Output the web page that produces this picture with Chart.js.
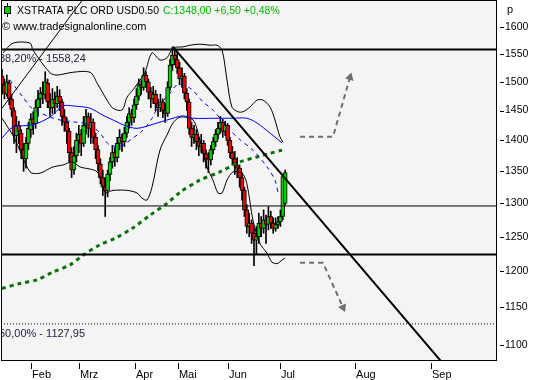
<!DOCTYPE html>
<html>
<head>
<meta charset="utf-8">
<script src="https://cdn.jsdelivr.net/npm/chart.js@4.4.0/dist/chart.umd.min.js"></script>
<style>
  html, body { margin: 0; padding: 0; background: #fff; }
  canvas { display: block; }
</style>
</head>
<body>
<canvas id="chart" width="533" height="380"></canvas>
<script>
// daily candles, index 0 = first visible bar
const opens = [1510,1495,1478,1498,1470,1450,1408,1425,1412,1385, 1370,1395,1418,1436,1428,1455,1470,1482,1478,1498,
  1465,1455,1470,1462,1475,1465,1440,1430,1415,1380, 1352,1375,1400,1410,1395,1425,1440,1420,1430,1405,
  1385,1362,1340,1325,1320,1345,1365,1380,1372,1395, 1405,1398,1412,1430,1445,1438,1460,1475,1495,1490,
  1512,1500,1482,1470,1478,1462,1455,1465,1450,1445, 1490,1530,1548,1540,1525,1505,1510,1480,1465,1420,
  1405,1410,1398,1390,1395,1378,1370,1368,1385,1398, 1410,1420,1430,1415,1425,1400,1380,1370,1360,1355,
  1340,1320,1290,1265,1270,1255,1245,1250,1270,1262, 1275,1268,1280,1270,1262,1268,1272,1280,1300];
const highs = [1522,1505,1512,1503,1478,1455,1440,1432,1418,1395, 1405,1430,1445,1448,1468,1485,1490,1500,1518,1505,
  1480,1488,1482,1492,1486,1470,1452,1438,1420,1388, 1390,1412,1425,1418,1440,1452,1446,1445,1436,1412,
  1392,1370,1352,1340,1352,1372,1392,1388,1405,1418, 1410,1422,1440,1455,1452,1470,1488,1505,1502,1525,
  1518,1505,1490,1492,1485,1470,1478,1470,1462,1500, 1540,1563,1560,1555,1535,1525,1515,1488,1470,1430,
  1425,1418,1405,1410,1400,1385,1380,1392,1405,1418, 1430,1440,1435,1432,1428,1405,1390,1382,1372,1360,
  1348,1325,1298,1285,1275,1262,1265,1285,1280,1290, 1282,1295,1288,1278,1278,1280,1290,1345,1352];
const lows = [1478,1470,1475,1460,1440,1395,1380,1395,1370,1350, 1355,1385,1405,1410,1420,1440,1455,1462,1470,1455,
  1440,1445,1445,1455,1450,1425,1415,1395,1365,1340, 1345,1365,1380,1375,1390,1410,1405,1395,1395,1370,
  1350,1330,1312,1280,1310,1335,1355,1358,1365,1385, 1382,1390,1405,1420,1425,1430,1452,1468,1478,1485,
  1490,1470,1455,1462,1450,1440,1448,1438,1430,1440, 1485,1520,1530,1515,1495,1490,1470,1450,1410,1390,
  1395,1385,1375,1380,1365,1355,1348,1360,1378,1390, 1402,1412,1405,1408,1392,1372,1360,1345,1340,1325,
  1305,1280,1255,1250,1240,1208,1225,1240,1250,1255, 1240,1260,1262,1255,1258,1262,1265,1275,1298];
const closes = [1495,1480,1500,1470,1452,1410,1425,1415,1385,1370, 1395,1420,1436,1428,1455,1470,1480,1478,1500,1465,
  1455,1470,1462,1475,1465,1440,1430,1415,1380,1352, 1375,1400,1410,1395,1425,1440,1420,1430,1405,1385,
  1362,1340,1325,1320,1345,1365,1380,1372,1395,1405, 1398,1412,1430,1445,1438,1460,1475,1495,1490,1512,
  1500,1482,1470,1478,1462,1455,1465,1450,1445,1490, 1530,1548,1540,1525,1505,1510,1480,1465,1420,1405,
  1410,1398,1390,1395,1378,1370,1368,1385,1398,1410, 1420,1430,1415,1425,1400,1380,1370,1360,1355,1340,
  1320,1290,1265,1270,1255,1245,1250,1270,1262,1275, 1268,1280,1270,1262,1268,1272,1280,1341.5,1348];

// indicators as [bar index, price]
const bbUpper = [[0.4,1552],[4.6,1570],[11.7,1570],[12.9,1557],[20,1516],[22.9,1512],[29.6,1517],[36.7,1517],[39.6,1498],
  [43.75,1468],[46.25,1454],[50,1451],[52.1,1473],[54.6,1486],[57.5,1503],[59.6,1517],[62.5,1552],[65.8,1539],[68.75,1543],
  [71.25,1561],[75.4,1563],[78.3,1566],[82.5,1568],[86.7,1566],[89.6,1566],[91.7,1557],[93.75,1503],[95.8,1456],[98.3,1448],
  [100.4,1448],[103.3,1456],[106.25,1468],[108.75,1468],[111.7,1456],[113.75,1434],[115.8,1406],[117.1,1397]];
const bbLower = [[0,1437],[5,1405],[11.7,1349],[15.8,1347],[21.25,1357],[25.4,1360],[29.2,1365],[32.5,1357],[39.6,1349],
  [42.9,1317],[46.25,1320],[52.1,1320],[56.25,1316],[58.3,1308],[60.4,1305],[62.5,1325],[65.8,1384],[68.75,1409],[71.25,1429],
  [74.2,1439],[79.6,1434],[82.5,1400],[85.4,1357],[87.9,1336],[90,1316],[91.7,1316],[93.75,1336],[96.25,1349],[100,1347],
  [102,1331],[104.6,1274],[107.5,1240],[110.4,1226],[112.5,1213],[114.6,1211],[116.7,1216],[117.9,1219]];
const avgSlow = [[0,1404],[4.6,1422],[12.9,1426],[20,1439],[25.4,1458],[29.6,1458],[36.7,1454],[42.1,1442],[47.9,1431],
  [50.4,1426],[56.25,1420],[64.6,1429],[71.25,1437],[75.4,1441],[79.6,1437],[88.75,1437],[96.25,1437],[102,1437],
  [106.25,1429],[111.7,1412],[116.7,1396]];
const avgFast = [[3.3,1503],[8.75,1473],[12.5,1454],[20,1439],[24.2,1434],[29.6,1431],[36.7,1426],[40.8,1412],[45,1392],
  [50,1392],[54.6,1404],[58.75,1417],[62.5,1437],[65,1456],[70,1480],[72.9,1494],[78.3,1489],[83.75,1465],[87.9,1451],
  [93.75,1422],[99.2,1401],[104.6,1384],[110.4,1357],[113.75,1336],[115,1316]];
const avg200 = [[0,1176],[7.5,1183],[14.6,1188],[21.25,1199],[28.3,1209],[33.75,1223],[40.8,1238],[47.9,1249],[54.6,1263],
  [61.7,1282],[68.75,1300],[74.2,1317],[82.5,1336],[90.8,1349],[99.2,1365],[106.25,1373],[111.7,1379],[116.7,1384]];

const trendDown = [[71.25,1563],[186.7,1066]];
const trendUp = [[0,1454],[34,1655]];
const arrowUp = [[124.2,1406],[137.9,1406],[145,1508]];
const arrowDown = [[124.2,1212],[133.75,1212],[142.1,1150]];

const fibLevels = [1558.24, 1127.95];
const fibTexts = ['38,20% - 1558,24', '50,00% - 1127,95'];
const supportLevels = [1296, 1224];

const monthLabels = ['Feb','Mrz','Apr','Mai','Jun','Jul','Aug','Sep'];
const monthTicks = [12.1, 32.1, 55.4, 73.3, 94.2, 115.8, 147.1, 178.75];
const priceTicks = [1100,1150,1200,1250,1300,1350,1400,1450,1500,1550,1600];

const xMin = -0.42, xMax = 206.25;
const yMin = 1081, yMax = 1651.7;

const toXY = arr => arr.map(p => ({ x: p[0], y: p[1] }));
const flat = v => [{ x: xMin, y: v }, { x: xMax, y: v }];
const font = '"Liberation Sans", Arial, sans-serif';

const up = closes.map((c, i) => c >= opens[i]);

const datasets = [
  {
    type: 'bar', label: 'wick', order: 11, grouped: false,
    data: closes.map((c, i) => ({ x: i, y: [lows[i], highs[i]] })),
    backgroundColor: '#000', barThickness: 1, borderWidth: 0
  },
  {
    type: 'bar', label: 'body', order: 10, grouped: false,
    data: closes.map((c, i) => ({ x: i, y: [opens[i], c] })),
    backgroundColor: up.map(u => u ? '#00d000' : '#f00000'),
    borderColor: '#000', borderWidth: 1, borderSkipped: false, barThickness: 4
  },
  { type: 'line', data: toXY(bbUpper), borderColor: '#000', borderWidth: 1, tension: 0.3, order: 5 },
  { type: 'line', data: toXY(bbLower), borderColor: '#000', borderWidth: 1, tension: 0.3, order: 5 },
  { type: 'line', data: toXY(avgSlow), borderColor: '#0000ff', borderWidth: 1, tension: 0.3, order: 4 },
  { type: 'line', data: toXY(avgFast), borderColor: '#0000ff', borderWidth: 1, borderDash: [4, 4], tension: 0.3, order: 4 },
  { type: 'line', data: toXY(avg200), borderColor: '#0a6e0a', borderWidth: 3, borderDash: [4, 4], tension: 0.3, order: 4 },
  { type: 'line', data: flat(fibLevels[0]), borderColor: '#000', borderWidth: 2, order: 3 },
  { type: 'line', data: flat(fibLevels[1]), borderColor: '#000', borderWidth: 1, borderDash: [1, 2], order: 3 },
  { type: 'line', data: flat(supportLevels[0]), borderColor: '#000', borderWidth: 1, order: 3 },
  { type: 'line', data: flat(supportLevels[1]), borderColor: '#000', borderWidth: 2, order: 3 },
  { type: 'line', data: toXY(trendDown), borderColor: '#000', borderWidth: 2, order: 2 },
  { type: 'line', data: toXY(trendUp), borderColor: '#000', borderWidth: 1, order: 2 },
  {
    type: 'line', data: toXY(arrowUp), borderColor: '#6e6e6e', borderWidth: 2, borderDash: [5, 4], order: 2,
    pointRadius: [0, 0, 5], pointStyle: 'triangle', pointRotation: 16, pointBackgroundColor: '#6e6e6e', pointBorderWidth: 0
  },
  {
    type: 'line', data: toXY(arrowDown), borderColor: '#6e6e6e', borderWidth: 2, borderDash: [5, 4], order: 2,
    pointRadius: [0, 0, 5], pointStyle: 'triangle', pointRotation: 156, pointBackgroundColor: '#6e6e6e', pointBorderWidth: 0
  }
];

const decor = {
  id: 'decor',
  beforeDraw(chart) {
    const { ctx, chartArea: a } = chart;
    ctx.save();
    ctx.fillStyle = '#fff';
    ctx.fillRect(0, 0, chart.width, chart.height);
    ctx.fillStyle = '#f4f4f4';
    ctx.fillRect(a.left, a.top, a.right - a.left, a.bottom - a.top);
    ctx.restore();
  },
  afterDraw(chart) {
    const { ctx, chartArea: a, scales } = chart;
    ctx.save();
    // frame
    ctx.strokeStyle = '#000';
    ctx.lineWidth = 1;
    ctx.strokeRect(a.left + 0.5, a.top + 0.5, a.right - a.left - 1, a.bottom - a.top);

    // tick marks
    ctx.beginPath();
    priceTicks.forEach(v => {
      const y = Math.round(scales.y.getPixelForValue(v)) + 0.5;
      ctx.moveTo(a.right + 3, y); ctx.lineTo(a.right + 7, y);
    });
    monthTicks.forEach(v => {
      const x = Math.round(scales.x.getPixelForValue(v)) + 0.5;
      ctx.moveTo(x, a.bottom + 3); ctx.lineTo(x, a.bottom + 9);
    });
    ctx.stroke();

    // fibonacci texts
    ctx.save();
    ctx.beginPath();
    ctx.rect(a.left + 1, a.top, a.right - a.left, a.bottom - a.top);
    ctx.clip();
    ctx.font = '11px ' + font;
    ctx.fillStyle = '#1e1e3c';
    fibLevels.forEach((v, i) => {
      ctx.fillText(fibTexts[i], a.left - 2, scales.y.getPixelForValue(v) + 13);
    });
    ctx.restore();

    // header
    ctx.fillStyle = '#000';
    ctx.fillRect(7, 3, 1, 14);
    ctx.fillRect(4, 6, 7, 8);
    ctx.fillStyle = '#00d000';
    ctx.fillRect(5, 7, 5, 6);
    ctx.font = '10.5px ' + font;
    ctx.fillStyle = '#000';
    const title = 'XSTRATA PLC ORD USD0.50';
    ctx.fillText(title, 17, 14);
    ctx.fillStyle = '#00b800';
    ctx.fillText('C:1348,00 +6,50 +0,48%', 17 + ctx.measureText(title).width + 4, 14);
    ctx.fillStyle = '#000';
    ctx.font = '11px ' + font;
    ctx.fillText('\u00a9 www.tradesignalonline.com', 2, 30);
    ctx.fillText('p', a.right + 10, 13);
    ctx.restore();
  }
};

new Chart(document.getElementById('chart'), {
  type: 'bar',
  data: { datasets },
  options: {
    responsive: false,
    animation: false,
    devicePixelRatio: 1,
    layout: { autoPadding: false, padding: { left: 1, top: 0, right: 0, bottom: 0 } },
    elements: { point: { radius: 0 } },
    plugins: { legend: { display: false }, tooltip: { enabled: false } },
    scales: {
      x: {
        type: 'linear', position: 'bottom', min: xMin, max: xMax, offset: false,
        grid: { display: false, drawTicks: false }, border: { display: false },
        afterBuildTicks: s => { s.ticks = monthTicks.map(v => ({ value: v })); },
        afterFit: s => { s.height = 20; s.paddingLeft = 0; s.paddingRight = 0; },
        ticks: {
          autoSkip: false, maxRotation: 0, align: 'start', padding: 8, labelOffset: 1,
          color: '#000', font: { family: font, size: 11 },
          callback: (v, i) => monthLabels[i]
        }
      },
      y: {
        type: 'logarithmic', position: 'right', min: yMin, max: yMax,
        grid: { display: false, drawTicks: false }, border: { display: false },
        afterBuildTicks: s => { s.ticks = priceTicks.map(v => ({ value: v })); },
        afterFit: s => { s.width = 36; s.paddingTop = 0; s.paddingBottom = 0; },
        ticks: {
          padding: 8, color: '#000', font: { family: font, size: 10.5 },
          callback: v => String(v)
        }
      }
    }
  },
  plugins: [decor]
});
</script>
</body>
</html>
